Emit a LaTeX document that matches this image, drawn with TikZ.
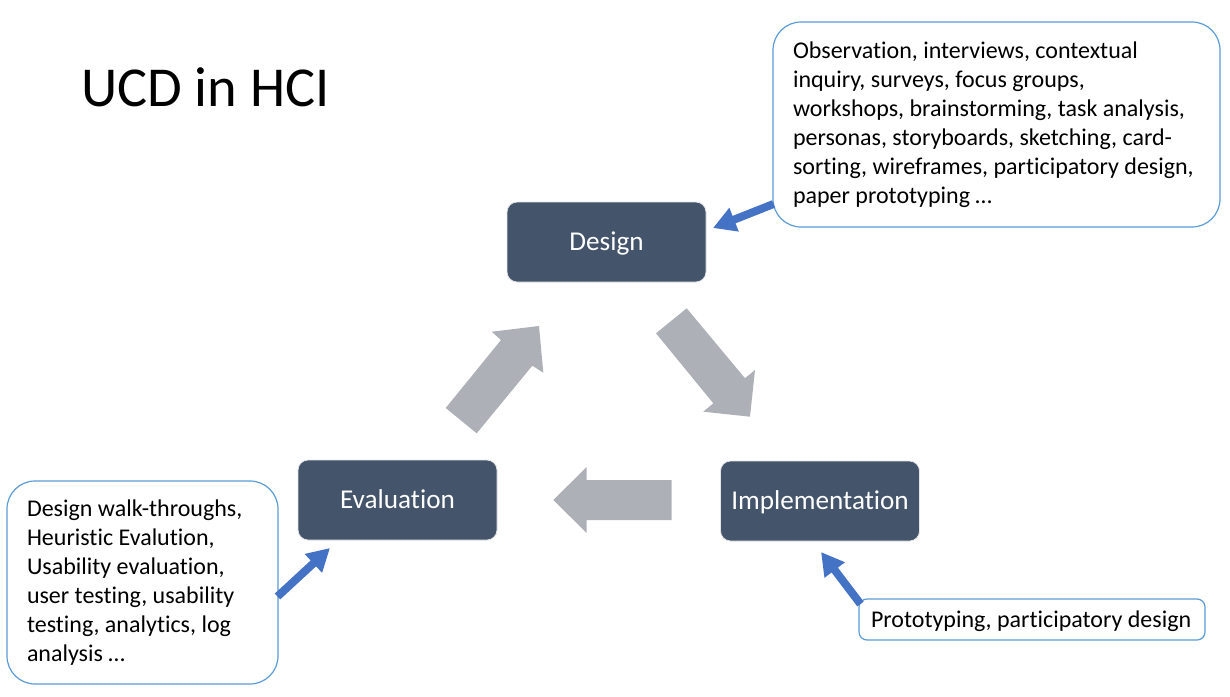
\documentclass[tikz,border=0pt]{standalone}
\usepackage{fontspec}
\setmainfont{Carlito}[Ligatures=NoCommon]
\usetikzlibrary{arrows.meta}

\definecolor{boxfill}{RGB}{68,84,106}
\definecolor{cyclegray}{RGB}{173,176,183}
\definecolor{calloutline}{RGB}{91,155,213}
\definecolor{pointerblue}{RGB}{68,114,196}

\tikzset{
  stage/.style={rectangle, rounded corners=7.5pt, fill=boxfill, draw=white!85!boxfill,
    line width=0.6pt, minimum width=149.25pt, minimum height=60pt, inner sep=0pt,
    text=white, font=\fontsize{20.4}{24}\selectfont, text height=13pt, text depth=0pt},
  callout/.style={rectangle, draw=calloutline, line width=0.9pt, fill=white,
    inner ysep=0pt, align=flush left, font=\fontsize{18}{21.75}\selectfont},
  pointer/.style={pointerblue, line width=6pt, -{Triangle[length=17pt,width=18pt]}},
  cyclearrow/.style={fill=cyclegray, draw=none}
}

\begin{document}
\begin{tikzpicture}[x=0.75pt,y=-0.75pt]
\useasboundingbox (0,0) rectangle (1230,696);

% title
\node[anchor=base west, inner sep=0pt, font=\fontsize{42.3}{50}\selectfont] (title) at (81,106) {UCD in HCI};

% the three stages of the cycle
\node[stage] (design) at (606.5,242) {Design};
\node[stage] (evaluation) at (397.5,500) {Evaluation};
\node[stage] (implementation) at (820,501) {Implementation};

% block arrows of the cycle
\fill[cyclearrow] (445.7,408) -- (501,340) -- (491.7,331.7) -- (539,326)
  -- (543.3,372.7) -- (532.3,365.7) -- (476.7,433.3) -- cycle;
\fill[cyclearrow] (686.7,308.3) -- (745,378.3) -- (755,370) -- (750,416.7)
  -- (703.3,411.7) -- (713.3,403.3) -- (656,333.3) -- cycle;
\fill[cyclearrow] (671.7,480) -- (586.7,480) -- (586.7,467) -- (553.3,500)
  -- (586.7,533) -- (586.7,520) -- (671.7,520) -- cycle;

% method callouts
\node[callout, rounded corners=21pt, text width=305.25pt, inner xsep=15pt,
  minimum height=153.75pt] (designmethods) at (996.5,124.5)
  {Observation, interviews, contextual\\
   inquiry, surveys, focus groups,\\
   workshops, brainstorming, task analysis,\\
   personas, storyboards, sketching, card-\\
   sorting, wireframes, participatory design,\\
   paper prototyping …};

\node[callout, rounded corners=21pt, text width=173.25pt, inner xsep=15pt,
  minimum height=152.25pt] (evalmethods) at (142.5,582.5)
  {Design walk-throughs,\\
   Heuristic Evalution,\\
   Usability evaluation,\\
   user testing, usability\\
   testing, analytics, log\\
   analysis …};

\node[callout, rounded corners=6pt, text width=241.5pt, inner xsep=9pt,
  minimum height=30.75pt, text depth=0pt] (implmethods) at (1032,619.5)
  {Prototyping, participatory design};

% pointer ends
\coordinate (designtip) at (713,228);
\coordinate (designtail) at (773.5,204);
\coordinate (evaltip) at (330,548);
\coordinate (evaltail) at (277.5,596.5);
\coordinate (impltip) at (821,552);
\coordinate (impltail) at (860.5,604);

\draw[pointer] (designtail) -- (designtip);
\draw[pointer] (evaltail) -- (evaltip);
\draw[pointer] (impltail) -- (impltip);
\end{tikzpicture}
\end{document}
